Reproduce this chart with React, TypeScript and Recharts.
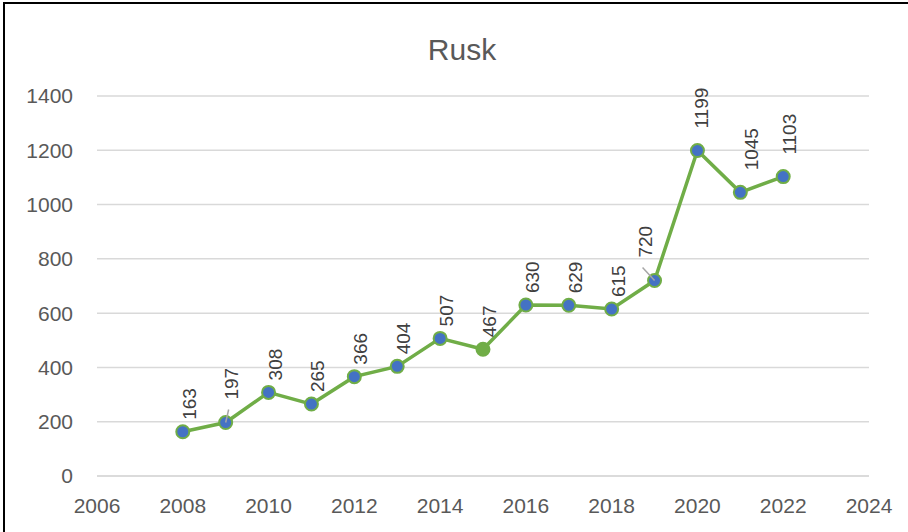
import { LineChart, Line, XAxis, YAxis, CartesianGrid } from 'recharts';

const years = [2008, 2009, 2010, 2011, 2012, 2013, 2014, 2015, 2016, 2017, 2018, 2019, 2020, 2021, 2022];
const values = [163, 197, 308, 265, 366, 404, 507, 467, 630, 629, 615, 720, 1199, 1045, 1103];
const xTicks = [2006, 2008, 2010, 2012, 2014, 2016, 2018, 2020, 2022, 2024];
const yTicks = [0, 200, 400, 600, 800, 1000, 1200, 1400];
const greenPointYears = [2015];

const data = years.map((year, i) => ({ year, value: values[i] }));

const GREEN = '#70ad47';
const BLUE = '#4472c4';
const FONT = '"Liberation Sans", Arial, sans-serif';

// labels Excel moved by hand (with leader lines)
const labelNudge: Record<number, { dx: number; dy: number; leader?: boolean }> = {
    2009: { dx: -1, dy: -11, leader: true },
    2019: { dx: -16, dy: -11, leader: true },
    2020: { dx: -2, dy: 0 },
    2021: { dx: 5, dy: 0 },
};

const Dot = (props: { cx?: number; cy?: number; index?: number }) => {
    const { cx, cy, index } = props;
    if (cx == null || cy == null || index == null) return null;
    const green = greenPointYears.includes(years[index]);
    return <circle key={`dot-${index}`} cx={cx} cy={cy} r={6.5} fill={green ? GREEN : BLUE} stroke={GREEN} strokeWidth={2} />;
};

const DataLabel = (props: { x?: number; y?: number; value?: number; index?: number }) => {
    const { x, y, value, index } = props;
    if (x == null || y == null || index == null) return null;
    const text = String(value);
    const nudge = labelNudge[years[index]] || { dx: 0, dy: 0 };
    const gap = text.length >= 4 ? 22 : 12;
    const ax = x + 13 + nudge.dx;
    const ay = y - gap + nudge.dy;
    return (
        <g key={`lbl-${index}`}>
            {nudge.leader && (
                <line
                    x1={x}
                    y1={y}
                    x2={nudge.dx < -5 ? x - 12 : x + 3}
                    y2={y - 13}
                    stroke="#a6a6a6"
                    strokeWidth={1.5}
                />
            )}
            <text
                x={ax}
                y={ay}
                transform={`rotate(-90 ${ax} ${ay})`}
                fill="#404040"
                fontSize={19}
                fontFamily={FONT}
                textAnchor="start"
            >
                {text}
            </text>
        </g>
    );
};

export default function App() {
    return (
        <div style={{ position: 'absolute', top: 0, left: 0, width: 908, height: 532, background: '#fff', overflow: 'hidden' }}>
            <div
                style={{
                    position: 'absolute',
                    left: 3,
                    top: 2,
                    width: 1000,
                    height: 600,
                    borderLeft: '2px solid #000',
                    borderTop: '2px solid #000',
                }}
            />
            <div
                style={{
                    position: 'absolute',
                    left: 0,
                    width: 924,
                    top: 35,
                    textAlign: 'center',
                    fontFamily: FONT,
                    fontSize: 30,
                    lineHeight: '30px',
                    color: '#595959',
                }}
            >
                Rusk
            </div>
            <div style={{ position: 'absolute', top: 0, left: 0 }}>
                <LineChart width={908} height={532} data={data} margin={{ top: 96, right: 39, left: 0, bottom: 0 }}>
                    <CartesianGrid vertical={false} stroke="#d9d9d9" strokeWidth={1.5} />
                    <XAxis
                        dataKey="year"
                        type="number"
                        domain={[2006, 2024]}
                        ticks={xTicks}
                        height={56}
                        tickSize={0}
                        tickMargin={22}
                        axisLine={{ stroke: '#d9d9d9', strokeWidth: 1.5 }}
                        tickLine={false}
                        tick={{ fontSize: 21, fill: '#595959', fontFamily: FONT }}
                        interval={0}
                    />
                    <YAxis
                        type="number"
                        domain={[0, 1400]}
                        ticks={yTicks}
                        width={97}
                        tickSize={0}
                        tickMargin={24}
                        axisLine={false}
                        tickLine={false}
                        tick={{ fontSize: 21, fill: '#595959', fontFamily: FONT }}
                        interval={0}
                    />
                    <Line
                        type="linear"
                        dataKey="value"
                        stroke={GREEN}
                        strokeWidth={3.5}
                        dot={<Dot />}
                        activeDot={false}
                        label={<DataLabel />}
                        isAnimationActive={false}
                    />
                </LineChart>
            </div>
        </div>
    );
}
